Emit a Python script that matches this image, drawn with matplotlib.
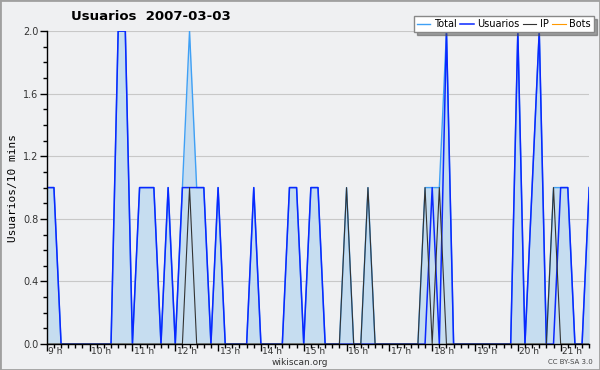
import matplotlib
matplotlib.use("Agg")
import matplotlib.pyplot as plt
from matplotlib.patches import Rectangle
from matplotlib.ticker import MultipleLocator, FixedLocator
import numpy as np

# 10-minute slots from 09:00 to 21:40, one row per hour
usuarios = [1, 1, 0, 0, 0, 0,
            0, 0, 0, 0, 2, 2,
            0, 1, 1, 1, 0, 1,
            0, 1, 1, 1, 1, 0,
            1, 0, 0, 0, 0, 1,
            0, 0, 0, 0, 1, 1,
            0, 1, 1, 0, 0, 0,
            0, 0, 0, 0, 0, 0,
            0, 0, 0, 0, 0, 0,
            1, 0, 2, 0, 0, 0,
            0, 0, 0, 0, 0, 0,
            2, 0, 1, 2, 0, 0,
            1, 1, 0, 0, 1]
ip = [0, 0, 0, 0, 0, 0,
      0, 0, 0, 0, 0, 0,
      0, 0, 0, 0, 0, 0,
      0, 0, 1, 0, 0, 0,
      0, 0, 0, 0, 0, 0,
      0, 0, 0, 0, 0, 0,
      0, 0, 0, 0, 0, 0,
      1, 0, 0, 1, 0, 0,
      0, 0, 0, 0, 0, 1,
      0, 1, 0, 0, 0, 0,
      0, 0, 0, 0, 0, 0,
      0, 0, 0, 0, 0, 1,
      0, 0, 0, 0, 0]
bots = [0, 0, 0, 0, 0, 0,
        0, 0, 0, 0, 0, 0,
        0, 0, 0, 0, 0, 0,
        0, 0, 0, 0, 0, 0,
        0, 0, 0, 0, 0, 0,
        0, 0, 0, 0, 0, 0,
        0, 0, 0, 0, 0, 0,
        0, 0, 0, 0, 0, 0,
        0, 0, 0, 0, 0, 0,
        0, 0, 0, 0, 0, 0,
        0, 0, 0, 0, 0, 0,
        0, 0, 0, 0, 0, 0,
        0, 0, 0, 0, 0]
total = [1, 1, 0, 0, 0, 0,
         0, 0, 0, 0, 2, 2,
         0, 1, 1, 1, 0, 1,
         0, 1, 2, 1, 1, 0,
         1, 0, 0, 0, 0, 1,
         0, 0, 0, 0, 1, 1,
         0, 1, 1, 0, 0, 0,
         1, 0, 0, 1, 0, 0,
         0, 0, 0, 0, 0, 1,
         1, 1, 2, 0, 0, 0,
         0, 0, 0, 0, 0, 0,
         2, 0, 1, 2, 0, 1,
         1, 1, 0, 0, 1]
hour_labels = ["9 h", "10 h", "11 h", "12 h", "13 h", "14 h", "15 h",
               "16 h", "17 h", "18 h", "19 h", "20 h", "21 h"]

start_hour = 9
x = start_hour + np.arange(len(total)) / 6.0

bg = "#eff0f2"
fig = plt.figure(figsize=(6, 3.7), dpi=100, facecolor=bg)
ax = fig.add_axes([0.078, 0.070, 0.904, 0.846])
ax.set_facecolor(bg)

ax.fill_between(x, total, 0, color="#c6ddf0", lw=0)
ax.plot(x, total, color="#3fa0f5", lw=1.0, label="Total")
ax.plot(x, usuarios, color="#0a28ff", lw=1.1, label="Usuarios")
ax.plot(x, ip, color="#333333", lw=0.8, label="IP")
ax.plot(x, bots, color="#ff9900", lw=0.8, label="Bots")

ax.set_xlim(x[0], x[-1])
ax.set_ylim(0, 2.0)
ax.yaxis.set_major_locator(MultipleLocator(0.4))
ax.yaxis.set_minor_locator(MultipleLocator(0.1))
ax.yaxis.set_major_formatter(matplotlib.ticker.FormatStrFormatter("%.1f"))
hours = start_hour + np.arange(len(hour_labels))
ax.xaxis.set_major_locator(FixedLocator(hours))
ax.set_xticklabels(hour_labels, ha="left")
ax.xaxis.set_minor_locator(MultipleLocator(1 / 6.0))
ax.grid(axis="y", color="#c8c8c8", lw=0.8)
ax.set_axisbelow(True)
for s in ["top", "right"]:
    ax.spines[s].set_visible(False)
for s in ["left", "bottom"]:
    ax.spines[s].set_color("black")
    ax.spines[s].set_linewidth(1.0)
ax.tick_params(which="major", length=5, width=1, labelsize=7, colors="black",
               labelcolor="#333333", pad=1)
ax.tick_params(which="minor", length=3, width=1, colors="black")
ax.tick_params(axis="x", which="major", pad=-3, labelsize=6.5)
# nudge hour labels a bit right of their tick
offset = matplotlib.transforms.ScaledTranslation(1.5 / 100, 0, fig.dpi_scale_trans)
for lbl in ax.get_xticklabels():
    lbl.set_transform(lbl.get_transform() + offset)

ax.set_ylabel("Usuarios/10 mins", family="DejaVu Sans Mono", fontsize=8,
              labelpad=4)

fig.text(151 / 600, 1 - 16 / 370, "Usuarios  2007-03-03", ha="center",
         va="center", fontsize=9.5, weight="bold")
fig.text(300 / 600, 1 - 362.5 / 370, "wikiscan.org", ha="center", va="center",
         fontsize=6.5, color="#333333")
fig.text(593 / 600, 1 - 362 / 370, "CC BY-SA 3.0", ha="right", va="center",
         fontsize=5, color="#444444")

leg = fig.legend(loc="upper right", bbox_to_anchor=(594 / 600, 1 - 16 / 370),
                 ncol=4, fontsize=7, frameon=True, fancybox=False, shadow=True,
                 handlelength=1.4, handletextpad=0.4, columnspacing=0.3,
                 borderpad=0.3, borderaxespad=0)
leg.get_frame().set_edgecolor("#888888")
leg.get_frame().set_facecolor("white")
leg.get_frame().set_alpha(1)

fig.patches.append(Rectangle((0, 0), 1, 1, transform=fig.transFigure,
                             fill=False, edgecolor="#a0a0a0", lw=2))

fig.savefig("out.png", dpi=100, facecolor=bg)
